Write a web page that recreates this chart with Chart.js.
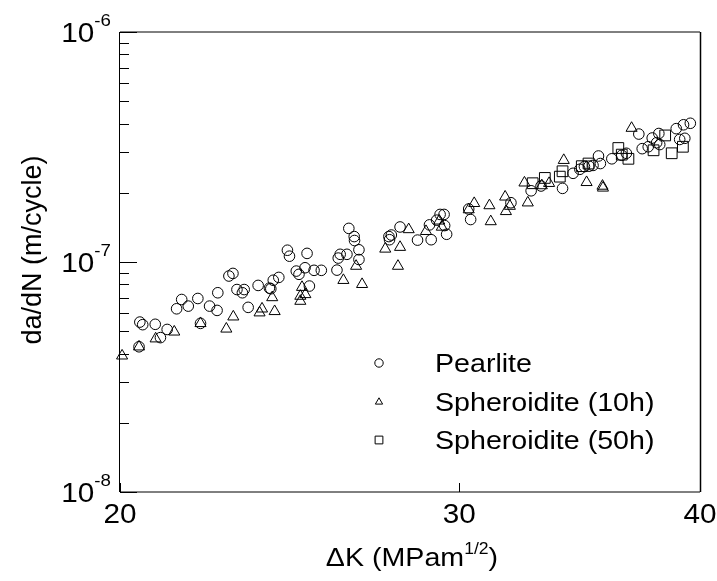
<!DOCTYPE html>
<html>
<head>
<meta charset="utf-8">
<script src="https://cdn.jsdelivr.net/npm/chart.js@4/dist/chart.umd.min.js"></script>
<style>
  html, body { margin: 0; padding: 0; background: #fff; }
  #wrap { width: 717px; height: 581px; position: relative; }
</style>
</head>
<body>
<div id="wrap"><canvas id="chart" width="717" height="581"></canvas></div>
<script>
// === Fatigue crack growth: da/dN vs dK ===

// --- data ---
var pearliteK = [20.46, 20.48, 20.55, 20.86, 20.99, 21.16, 21.40, 21.53, 21.70, 21.95,
  22.02, 22.26, 22.46, 22.48, 22.78, 22.89, 23.00, 23.15, 23.20, 23.31,
  23.59, 23.91, 23.95, 24.02, 24.18, 24.43, 24.49, 24.69, 24.77, 24.95,
  25.01, 25.08, 25.22, 25.44, 25.92, 25.96, 26.02, 26.23, 26.29, 26.46,
  26.47, 26.61, 26.61, 27.58, 27.60, 27.66, 27.95, 28.54, 28.95, 29.01,
  29.20, 29.32, 29.46, 29.48, 29.55, 30.34, 30.41, 31.91, 32.69, 33.08,
  33.94, 34.37, 34.65, 34.84, 35.03, 35.20, 35.43, 35.51, 36.00, 36.43,
  36.63, 37.18, 37.33, 37.60, 37.78, 37.98, 38.08, 38.12, 38.88, 39.04,
  39.22, 39.28, 39.54];
var pearliteRate = [4.28e-8, 5.48e-8, 5.34e-8, 5.36e-8, 4.69e-8, 5.09e-8, 6.26e-8, 6.87e-8, 6.43e-8, 6.94e-8,
  5.41e-8, 6.43e-8, 6.16e-8, 7.35e-8, 8.69e-8, 8.92e-8, 7.59e-8, 7.35e-8, 7.59e-8, 6.35e-8,
  7.91e-8, 7.70e-8, 7.65e-8, 8.33e-8, 8.57e-8, 1.125e-7, 1.06e-7, 9.13e-8, 8.84e-8, 9.44e-8,
  1.09e-7, 7.86e-8, 9.20e-8, 9.20e-8, 9.22e-8, 1.04e-7, 1.08e-7, 1.08e-7, 1.40e-7, 1.29e-7,
  1.24e-7, 1.13e-7, 1.025e-7, 1.29e-7, 1.25e-7, 1.31e-7, 1.42e-7, 1.245e-7, 1.45e-7, 1.25e-7,
  1.52e-7, 1.61e-7, 1.61e-7, 1.44e-7, 1.32e-7, 1.70e-7, 1.53e-7, 1.81e-7, 2.04e-7, 2.14e-7,
  2.09e-7, 2.43e-7, 2.53e-7, 2.60e-7, 2.61e-7, 2.63e-7, 2.89e-7, 2.68e-7, 2.81e-7, 2.91e-7,
  2.97e-7, 3.60e-7, 3.11e-7, 3.17e-7, 3.46e-7, 3.30e-7, 3.62e-7, 3.24e-7, 3.80e-7, 3.41e-7,
  3.95e-7, 3.45e-7, 4.01e-7];

var sph10K = [20.05, 20.46, 20.87, 21.34, 22.02, 22.71, 22.90, 23.63, 23.70, 23.99,
  24.06, 24.81, 24.81, 24.86, 24.96, 26.12, 26.52, 26.71, 27.46, 27.88,
  27.95, 28.24, 28.83, 29.29, 29.38, 30.34, 30.54, 31.10, 31.15, 31.69,
  31.72, 31.87, 32.43, 32.56, 33.11, 33.40, 33.99, 34.93, 35.60, 35.62,
  36.86];
var sph10Rate = [3.91e-8, 4.28e-8, 4.64e-8, 4.97e-8, 5.41e-8, 5.12e-8, 5.78e-8, 6.02e-8, 6.26e-8, 7.01e-8,
  6.10e-8, 7.11e-8, 6.76e-8, 7.77e-8, 7.23e-8, 8.33e-8, 9.60e-8, 8.00e-8, 1.14e-7, 9.60e-8,
  1.16e-7, 1.385e-7, 1.36e-7, 1.51e-7, 1.42e-7, 1.69e-7, 1.80e-7, 1.76e-7, 1.50e-7, 1.92e-7,
  1.66e-7, 1.75e-7, 2.21e-7, 1.81e-7, 2.15e-7, 2.20e-7, 2.77e-7, 2.22e-7, 2.14e-7, 2.10e-7,
  3.82e-7];

var sph50K = [32.75, 33.23, 33.83, 33.94, 34.73, 35.01, 36.28, 36.43, 36.72, 37.84,
  38.37, 38.67, 39.19];
var sph50Rate = [2.20e-7, 2.32e-7, 2.35e-7, 2.48e-7, 2.61e-7, 2.68e-7, 3.13e-7, 2.93e-7, 2.81e-7, 3.06e-7,
  3.55e-7, 2.97e-7, 3.17e-7];

var seriesNames = ['Pearlite', 'Spheroidite (10h)', 'Spheroidite (50h)'];
var xTickValues = [20, 30, 40];
var yMajorExps = [-8, -7, -6];

// --- helpers ---
var FONT = '"Liberation Sans", Arial, Helvetica, sans-serif';
var STRETCH = 1.1;

function pts(xs, ys) {
  return xs.map(function(x, i) { return { x: x, y: ys[i] }; });
}

function txt(ctx, str, x, y, size, align) {
  ctx.save();
  ctx.translate(x, y);
  ctx.scale(STRETCH, 1);
  ctx.font = size + 'px ' + FONT;
  ctx.textAlign = align || 'left';
  ctx.textBaseline = 'alphabetic';
  ctx.fillStyle = '#000';
  ctx.fillText(str, 0, 0);
  ctx.restore();
}

function txtWidth(ctx, str, size) {
  ctx.save();
  ctx.font = size + 'px ' + FONT;
  var w = ctx.measureText(str).width * STRETCH;
  ctx.restore();
  return w;
}

function line(ctx, x1, y1, x2, y2, color, w) {
  ctx.beginPath();
  ctx.strokeStyle = color;
  ctx.lineWidth = w;
  ctx.moveTo(x1, y1);
  ctx.lineTo(x2, y2);
  ctx.stroke();
}

// --- axes, ticks, labels, legend ---
var framePlugin = {
  id: 'frame',
  afterDraw: function(chart) {
    var ctx = chart.ctx;
    var a = chart.chartArea;
    var xs = chart.scales.x, ys = chart.scales.y;
    ctx.save();

    // box
    line(ctx, a.left, a.top, a.right, a.top, '#000', 1);
    line(ctx, a.left, a.bottom, a.right, a.bottom, '#000', 1);
    line(ctx, a.left - 0.5, a.top, a.left - 0.5, a.bottom, '#000', 1);
    line(ctx, a.right + 0.5, a.top, a.right + 0.5, a.bottom, '#000', 1.5);

    // y ticks (inside)
    yMajorExps.forEach(function(e, i) {
      var yp = Math.round(ys.getPixelForValue(Math.pow(10, e))) + 0.5;
      line(ctx, a.left, yp, a.left + 17, yp, '#000', 1);
      if (i < yMajorExps.length - 1) {
        for (var m = 2; m <= 9; m++) {
          var ym = Math.round(ys.getPixelForValue(m * Math.pow(10, e))) + 0.5;
          line(ctx, a.left, ym, a.left + 9, ym, '#000', 1);
        }
      }
      // label 10^e
      var yc = ys.getPixelForValue(Math.pow(10, e));
      var sup = String(e);
      var wSup = txtWidth(ctx, sup, 17);
      var xr = a.left - 9;
      txt(ctx, sup, xr - wSup, yc - 6, 17, 'left');
      txt(ctx, '10', xr - wSup, yc + 10, 27, 'right');
    });

    // x ticks (inside) and labels
    xTickValues.forEach(function(v) {
      var xp = Math.round(xs.getPixelForValue(v)) + 0.5;
      line(ctx, xp, a.bottom, xp, a.bottom - 9, '#000', 1);
      txt(ctx, String(v), xs.getPixelForValue(v), a.bottom + 31, 27, 'center');
    });

    // x title: ΔK (MPam^1/2)
    var t1 = '\u0394K (MPam', t2 = '1/2', t3 = ')';
    var w1 = txtWidth(ctx, t1, 26), w2 = txtWidth(ctx, t2, 16), w3 = txtWidth(ctx, t3, 26);
    var cx = 412;
    var x0 = cx - (w1 + w2 + w3) / 2;
    var by = 566;
    txt(ctx, t1, x0, by, 26, 'left');
    txt(ctx, t2, x0 + w1, by - 12, 16, 'left');
    txt(ctx, t3, x0 + w1 + w2, by, 26, 'left');

    // y title
    ctx.save();
    ctx.translate(41, 250);
    ctx.rotate(-Math.PI / 2);
    ctx.font = '27px ' + FONT;
    ctx.textAlign = 'center';
    ctx.fillStyle = '#000';
    ctx.fillText('da/dN (m/cycle)', 0, 0);
    ctx.restore();

    // legend
    var styles = ['circle', 'triangle', 'rect'];
    var rows = [363, 402, 440];
    styles.forEach(function(s, i) {
      ctx.save();
      ctx.strokeStyle = '#000';
      ctx.lineWidth = 1;
      Chart.helpers.drawPoint(ctx, { pointStyle: s, radius: s === 'rect' ? 5.5 : 4.2, borderWidth: 1 }, 379, rows[i]);
      ctx.restore();
      txt(ctx, seriesNames[i], 435, rows[i] + 9, 26, 'left');
    });

    ctx.restore();
  }
};

function ds(label, data, style, r) {
  return {
    label: label,
    data: data,
    pointStyle: style,
    pointRadius: r,
    pointHoverRadius: r,
    borderColor: '#000',
    backgroundColor: 'rgba(0,0,0,0)',
    borderWidth: 1,
    showLine: false,
    clip: false
  };
}

new Chart(document.getElementById('chart').getContext('2d'), {
  type: 'scatter',
  data: {
    datasets: [
      ds(seriesNames[0], pts(pearliteK, pearliteRate), 'circle', 5.3),
      ds(seriesNames[1], pts(sph10K, sph10Rate), 'triangle', 6.4),
      ds(seriesNames[2], pts(sph50K, sph50Rate), 'rect', 7.6)
    ]
  },
  options: {
    responsive: false,
    animation: false,
    layout: { padding: { left: 120, right: 17, top: 32, bottom: 89 } },
    plugins: {
      legend: { display: false },
      tooltip: { enabled: false }
    },
    scales: {
      x: { type: 'logarithmic', min: 20, max: 40, display: false },
      y: { type: 'logarithmic', min: 1e-8, max: 1e-6, display: false }
    }
  },
  plugins: [framePlugin]
});
</script>
</body>
</html>
